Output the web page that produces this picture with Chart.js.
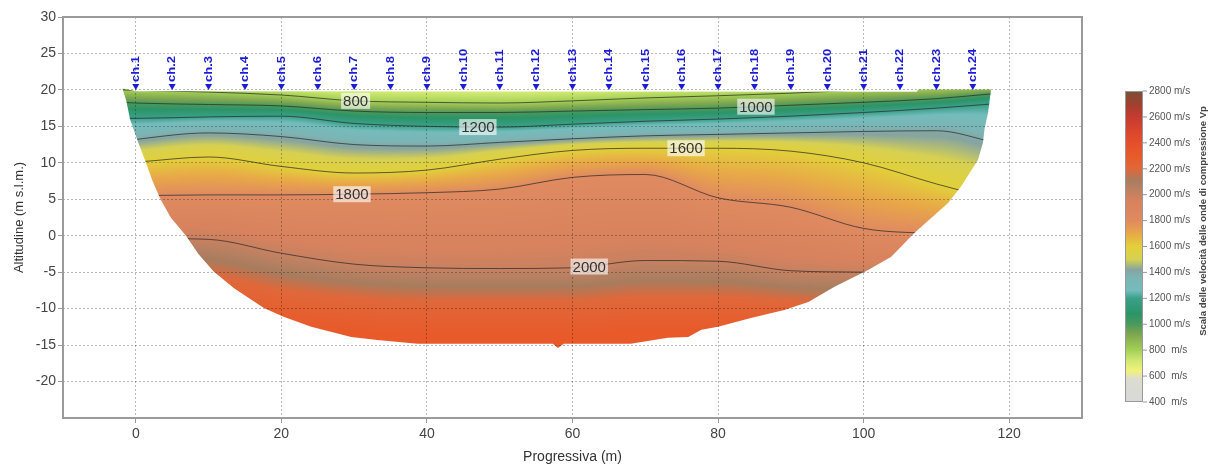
<!DOCTYPE html>
<html>
<head>
<meta charset="utf-8">
<script src="https://cdn.jsdelivr.net/npm/chart.js@4.4.1/dist/chart.umd.min.js"></script>
<style>
html,body{margin:0;background:#fff}
#wrap{width:1216px;height:466px;position:relative}
</style>
</head>
<body>
<div id="wrap"><canvas id="sez"></canvas></div>
<script>

// stations along the line (m) where the isolines are sampled
const stX=[-2,0,10,20,30,40,50,60,70,80,90,100,110,118]

// isoline altitudes (m s.l.m.) at each station
const z600 =[21.5,21.5,21.5,21.5,21.5,21.5,21.5,21.5,21.5,21.5,21.5,21.5,21.5,21.5]
const z800 =[20.0,19.95,19.7,19.3,18.5,18.3,18.2,18.5,18.9,19.2,19.55,20.0,20.3,20.5]
const z1000=[18.3,18.2,18.0,17.8,17.1,16.9,16.9,17.1,17.3,17.5,17.9,18.3,18.8,19.5]
const z1200=[16.1,16.1,16.3,16.4,15.4,15.0,14.9,15.3,15.7,16.0,16.4,16.9,17.5,18.1]
const z1400=[12.9,13.2,14.1,13.6,12.5,12.3,12.8,13.3,13.7,13.9,14.1,14.3,14.4,12.8]
const z1600=[10.0,10.1,10.8,9.5,8.6,9.0,10.5,11.7,12.0,12.0,11.6,10.0,7.1,5.0]
const z1800=[5.5,5.5,5.6,5.6,5.7,5.9,6.4,8.0,8.4,5.2,3.9,1.0,0.3,0.0]
const z2000=[0.0,-0.3,-0.5,-2.4,-3.9,-4.4,-4.5,-4.4,-3.4,-3.5,-4.8,-5.0,-5.2,-5.2]
const z2200=[-4.5,-4.5,-5.5,-7.5,-8.5,-9.0,-9.0,-9.0,-8.5,-8.5,-9.0,-9.5,-9.5,-9.5]
const z2300=[-9.0,-9.0,-10.0,-12.0,-13.0,-13.5,-13.5,-13.5,-13.0,-13.0,-12.5,-12.0,-12.0,-12.0]

const levels=[600,800,1000,1200,1400,1600,1800,2000,2200,2300]
const levelZ=[z600,z800,z1000,z1200,z1400,z1600,z1800,z2000,z2200,z2300]
const drawnLevels=[800,1000,1200,1400,1600,1800,2000]

// isoline labels
const labV=[800,1000,1200,1600,1800,2000]
const labX=[30.2,85.2,47.0,75.6,29.7,62.3]

// topographic surface and lower limit of the section
const surfX=[-1.8,0,107.3,107.5,117.5]
const surfZ=[20.2,19.8,19.75,20.05,20.05]
const botX=[-1.8,-1.3,-0.8,0.3,1.4,2.3,3.4,4.8,6.9,8.6,10.7,13.5,17.6,20.3,24.1,29.6,33.2,38.7,57.3,58.0,58.8,68.0,73.1,75.9,77.7,80.0,84.5,89.1,92.4,96.0,100.6,103.8,107.0,111.6,113.4,115.7,116.4,116.6,117.1,117.5]
const botZ=[20.1,18.5,16.0,12.9,10.0,7.5,5.0,2.5,0.0,-2.5,-4.9,-7.2,-9.9,-11.1,-12.5,-13.9,-14.3,-14.8,-14.8,-15.4,-14.8,-14.8,-14.0,-13.9,-12.9,-12.5,-11.3,-10.2,-9.1,-7.0,-4.7,-2.9,0.4,4.5,6.8,10.4,12.8,14.6,16.9,20.05]

// geophones
const chX=[0,5,10,15,20,25,30,35,40,45,50,55,60,65,70,75,80,85,90,95,100,105,110,115]
const chZ=[20,20,20,20,20,20,20,20,20,20,20,20,20,20,20,20,20,20,20,20,20,20,20,20]

// velocity colour scale
const cmV=[400,580,640,720,800,920,1000,1080,1200,1260,1360,1420,1500,1600,1700,1800,1950,2050,2110,2200,2300,2450,2600,2700,2800]
const cmC=['#d8d8d8','#dcdcd0','#f2f27a','#cfe872','#a4d055','#80a650','#4a9a5a','#2c9468','#3aa088','#74bcbc','#7cb4b4','#86a4a0','#d6d052','#e2d03a','#e8a848','#e08a60','#d8825e','#b88062','#a87c5e','#e0683a','#e85a2a','#e04a2c','#c63a30','#a04030','#7a5035']
const cbTicks=[400,600,800,1000,1200,1400,1600,1800,2000,2200,2400,2600,2800]

const xTickVals=[0,20,40,60,80,100,120]
const yTickVals=[-20,-15,-10,-5,0,5,10,15,20,25,30]

const FONT='"Liberation Sans", Arial, sans-serif'

function hex(c){return [parseInt(c.slice(1,3),16),parseInt(c.slice(3,5),16),parseInt(c.slice(5,7),16)]}

// lookup table, one entry per m/s
const lut=[]
for(let v=400;v<=2800;v++){
let k=0
while(k<cmV.length-2&&v>cmV[k+1])k++
const t=(v-cmV[k])/(cmV[k+1]-cmV[k])
const a=hex(cmC[k]),b=hex(cmC[k+1])
lut.push([a[0]+(b[0]-a[0])*t,a[1]+(b[1]-a[1])*t,a[2]+(b[2]-a[2])*t])
}

// monotone cubic, same family as the line tension used by the chart
function monoSlopes(xs,ys){
const n=xs.length,d=[],m=[]
for(let i=0;i<n-1;i++)d[i]=(ys[i+1]-ys[i])/(xs[i+1]-xs[i])
m[0]=d[0];m[n-1]=d[n-2]
for(let i=1;i<n-1;i++)m[i]=(d[i-1]*d[i]<=0)?0:(d[i-1]+d[i])/2
for(let i=0;i<n-1;i++){
if(d[i]===0){m[i]=0;m[i+1]=0;continue}
const a=m[i]/d[i],b=m[i+1]/d[i],s=a*a+b*b
if(s>9){const t=3/Math.sqrt(s);m[i]=t*a*d[i];m[i+1]=t*b*d[i]}
}
return m
}
function hermite(xs,ys,m,x){
x=Math.max(xs[0],Math.min(xs[xs.length-1],x))
let i=0
while(i<xs.length-2&&x>xs[i+1])i++
const h=xs[i+1]-xs[i],t=(x-xs[i])/h,t2=t*t,t3=t2*t
return (2*t3-3*t2+1)*ys[i]+(t3-2*t2+t)*h*m[i]+(-2*t3+3*t2)*ys[i+1]+(t3-t2)*h*m[i+1]
}
const slopes=levelZ.map(z=>monoSlopes(stX,z))

function velAt(zs,yv){
if(yv>=zs[0])return levels[0]
for(let k=0;k<zs.length-1;k++){
if(yv>=zs[k+1]){
return levels[k]+(levels[k+1]-levels[k])*(zs[k]-yv)/(zs[k]-zs[k+1])
}
}
return levels[levels.length-1]
}

function sectionPath(chart){
const {ctx,scales:{x,y}}=chart
ctx.beginPath()
surfX.forEach((v,i)=>ctx.lineTo(x.getPixelForValue(v),y.getPixelForValue(surfZ[i])))
for(let i=botX.length-1;i>=0;i--)ctx.lineTo(x.getPixelForValue(botX[i]),y.getPixelForValue(botZ[i]))
ctx.closePath()
}

const sectionPlugin={
id:'sezione',
beforeDraw(chart){
const {ctx,chartArea:a,scales:{x,y}}=chart
const w=Math.round(a.right-a.left),h=Math.round(a.bottom-a.top)
const off=document.createElement('canvas')
off.width=w;off.height=h
const oc=off.getContext('2d')
const img=oc.createImageData(w,h)
const yTop=y.getPixelForValue(21)-a.top,yBot=y.getPixelForValue(-16)-a.top
for(let i=0;i<w;i++){
const xv=x.getValueForPixel(a.left+i+0.5)
if(xv<-3||xv>119)continue
const zs=levelZ.map((z,k)=>hermite(stX,z,slopes[k],xv))
for(let j=Math.max(0,Math.floor(yTop));j<Math.min(h,Math.ceil(yBot));j++){
const yv=y.getValueForPixel(a.top+j+0.5)
const v=velAt(zs,yv)
const c=lut[Math.max(0,Math.min(2400,Math.round(v)-400))]
const p=(j*w+i)*4
img.data[p]=c[0];img.data[p+1]=c[1];img.data[p+2]=c[2];img.data[p+3]=255
}
}
oc.putImageData(img,0,0)
ctx.save()
sectionPath(chart)
ctx.clip()
ctx.drawImage(off,a.left,a.top)
ctx.restore()
},
beforeDatasetsDraw(chart){
chart.ctx.save()
sectionPath(chart)
chart.ctx.clip()
},
afterDatasetsDraw(chart){
const {ctx,scales:{x,y}}=chart
ctx.restore()

// isoline labels
ctx.save()
ctx.font='15px '+FONT
ctx.textAlign='center'
ctx.textBaseline='middle'
labV.forEach((v,i)=>{
const k=levels.indexOf(v)
const zv=hermite(stX,levelZ[k],slopes[k],labX[i])
const px=x.getPixelForValue(labX[i]),py=y.getPixelForValue(zv)
const t=String(v),tw=ctx.measureText(t).width
ctx.fillStyle='rgba(255,255,255,0.62)'
ctx.fillRect(px-tw/2-2,py-8,tw+4,16)
ctx.fillStyle='#333'
ctx.fillText(t,px,py+1)
})
ctx.restore()

// geophone markers
ctx.save()
chX.forEach((cx,i)=>{
const px=x.getPixelForValue(cx),py=y.getPixelForValue(chZ[i])
ctx.fillStyle='#1c1cd6'
ctx.beginPath()
ctx.moveTo(px,py)
ctx.lineTo(px-3.5,py-6)
ctx.lineTo(px+3.5,py-6)
ctx.closePath()
ctx.fill()
ctx.save()
ctx.translate(px,py-8)
ctx.rotate(-Math.PI/2)
ctx.scale(1.3,1)
ctx.font='bold 10px '+FONT
ctx.textAlign='left'
ctx.textBaseline='middle'
ctx.fillText('ch.'+(i+1),0,0.5)
ctx.restore()
})
ctx.restore()
},
afterDraw(chart){
const {ctx,chartArea:a}=chart
ctx.save()
ctx.strokeStyle='#9a9a9a'
ctx.lineWidth=2
ctx.strokeRect(a.left,a.top,a.right-a.left,a.bottom-a.top)

// colour bar
const L=1125,R=1143,T=91,B=402
const g=ctx.createLinearGradient(0,B,0,T)
cmV.forEach((v,i)=>g.addColorStop((v-400)/2400,cmC[i]))
ctx.fillStyle=g
ctx.fillRect(L,T,R-L,B-T)
ctx.strokeStyle='#999'
ctx.lineWidth=1
ctx.strokeRect(L+0.5,T+0.5,R-L-1,B-T-1)
ctx.font='10px '+FONT
ctx.textBaseline='middle'
ctx.textAlign='left'
ctx.fillStyle='#555'
cbTicks.forEach(v=>{
const py=B-(v-400)/2400*(B-T)
ctx.beginPath()
ctx.moveTo(R,py);ctx.lineTo(R+4,py);ctx.stroke()
ctx.fillText(v+(v<1000?'  ':' ')+'m/s',R+6,py)
})
ctx.save()
ctx.translate(1203,221)
ctx.rotate(-Math.PI/2)
ctx.textAlign='center'
ctx.font='bold 9.5px '+FONT
ctx.fillStyle='#444'
ctx.fillText('Scala delle velocità delle onde di compressione Vp',0,0)
ctx.restore()
ctx.restore()
}
}

const datasets=drawnLevels.map(v=>{
const z=levelZ[levels.indexOf(v)]
return{
label:v+' m/s',
data:stX.map((x,i)=>({x:x,y:z[i]})),
showLine:true,
borderColor:'rgba(45,45,45,0.75)',
borderWidth:1,
pointRadius:0,
cubicInterpolationMode:'monotone'
}
})

new Chart(document.getElementById('sez'),{
type:'scatter',
data:{datasets:datasets},
options:{
responsive:true,
maintainAspectRatio:false,
animation:false,
layout:{padding:{top:17,right:134,left:0,bottom:0}},
plugins:{legend:{display:false},tooltip:{enabled:false}},
scales:{
x:{
type:'linear',min:-10,max:130,
afterBuildTicks:s=>{s.ticks=xTickVals.map(v=>({value:v}))},
afterFit:s=>{s.height=48},
grid:{color:'rgba(0,0,0,0.28)',lineWidth:1,tickLength:5,tickColor:'#999',tickBorderDash:[]},
border:{display:false,dash:[2,2]},
ticks:{font:{size:14,family:FONT},color:'#444',padding:3,maxRotation:0},
title:{display:true,text:'Progressiva (m)',font:{size:14,family:FONT},color:'#333',padding:{top:0,bottom:0}}
},
y:{
type:'linear',min:-25,max:30,
afterBuildTicks:s=>{s.ticks=yTickVals.map(v=>({value:v}))},
afterFit:s=>{s.width=63},
grid:{color:'rgba(0,0,0,0.28)',lineWidth:1,tickLength:5,tickColor:'#999',tickBorderDash:[]},
border:{display:false,dash:[2,2]},
ticks:{font:{size:14,family:FONT},color:'#444',padding:2},
title:{display:true,text:'Altitudine (m s.l.m.)',font:{size:13,family:FONT},color:'#333',padding:{top:12,bottom:0}}
}
}
},
plugins:[sectionPlugin]
})

</script>
</body>
</html>
